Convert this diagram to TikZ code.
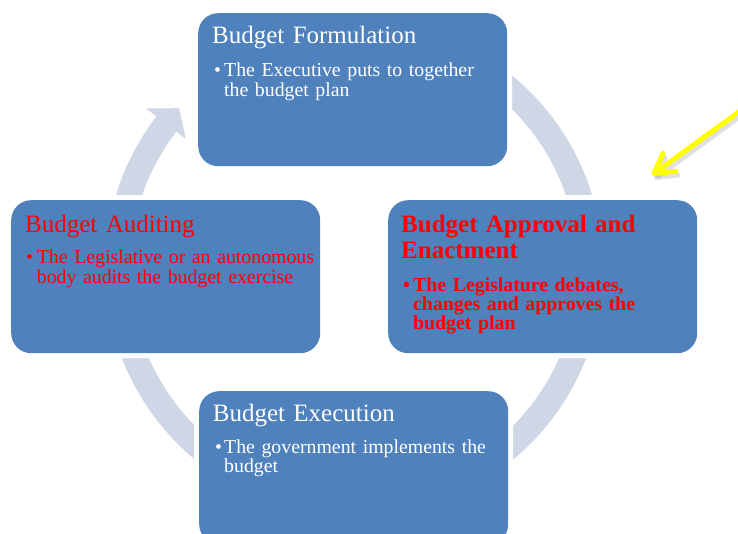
\documentclass[tikz,border=0pt]{standalone}
\usepackage{fontspec}
\setmainfont{Liberation Serif}
\usetikzlibrary{arrows.meta}
\definecolor{boxblue}{RGB}{79,129,189}
\definecolor{ringcol}{RGB}{207,214,230}
\definecolor{hiyellow}{RGB}{255,255,0}
\begin{document}
\begin{tikzpicture}[x=1pt,y=1pt,
  stagebox/.style={rectangle, rounded corners=20pt, fill=boxblue,
    minimum width=309pt, minimum height=153pt, anchor=north west, inner sep=0pt,
    preaction={draw=white, line width=10pt}},
  titletext/.style={anchor=base west, inner sep=0pt, text width=300pt, align=left,
    font=\fontsize{25}{26.4}\selectfont},
  bodytext/.style={anchor=base west, inner sep=0pt, text width=290pt, align=left,
    font=\fontsize{19.8}{#1}\selectfont},
  bullettext/.style={anchor=base west, inner sep=0pt, font=\fontsize{19.8}{18}\selectfont},
  ring/.style={draw=ringcol, line width=25pt, line cap=butt},
  yarrow/.style={draw=hiyellow, line width=5pt, line cap=round,
    -{Straight Barb[length=19pt, width=22pt, round]}}
]
\useasboundingbox (0,0) rectangle (738,533);
\clip (0,0) rectangle (738,533);
\fill[white] (0,0) rectangle (738,533);

% circular arrow
\coordinate (c) at (354,265);
\draw[ring] (c) ++(55:236.5pt) arc[start angle=55, end angle=-217.8, radius=236.5pt];
\path (c) ++(142.5:262pt) coordinate (h1)
      (c) ++(142.5:212pt) coordinate (h2)
      (c) ++(137.6:237pt) coordinate (h3);
\fill[ringcol] (h1) -- (h3) -- (h2) -- cycle;

% boxes
\node[stagebox] (form) at (198,520) {};
\node[stagebox] (appr) at (388,333) {};
\node[stagebox] (audit) at (11,333) {};
\node[stagebox] (exec) at (199,142) {};

% Budget Formulation
\node[titletext, text=white] (formT) at ([shift={(14pt,-31pt)}]form.north west) {Budget Formulation};
\node[bullettext, text=white] (formB) at ([shift={(16pt,-64pt)}]form.north west) {•};
\node[bodytext=18, text=white] (formX) at ([shift={(26pt,-64pt)}]form.north west)
  {The Executive puts to together\\the budget plan};

% Budget Approval and Enactment
\node[titletext, text=red, font=\bfseries\fontsize{25}{26.3}\selectfont] (apprT)
  at ([shift={(13pt,-32.7pt)}]appr.north west) {Budget Approval and\\Enactment};
\node[bullettext, text=red, font=\bfseries\fontsize{19.8}{18}\selectfont] (apprB)
  at ([shift={(15pt,-91.7pt)}]appr.north west) {•};
\node[bodytext=17.5, text=red, font=\bfseries\fontsize{19.8}{17.5}\selectfont] (apprX)
  at ([shift={(25pt,-91.7pt)}]appr.north west)
  {The Legislature debates,\\changes and approves the\\budget plan};

% Budget Auditing
\node[titletext, text=red] (auditT) at ([shift={(14pt,-32.7pt)}]audit.north west) {Budget Auditing};
\node[bullettext, text=red] (auditB) at ([shift={(15pt,-64pt)}]audit.north west) {•};
\node[bodytext=17.7, text=red] (auditX) at ([shift={(25.7pt,-64pt)}]audit.north west)
  {The Legislative or an autonomous\\body audits the budget exercise};

% Budget Execution
\node[titletext, text=white] (execT) at ([shift={(13.7pt,-30.7pt)}]exec.north west) {Budget Execution};
\node[bullettext, text=white] (execB) at ([shift={(16pt,-62pt)}]exec.north west) {•};
\node[bodytext=17, text=white] (execX) at ([shift={(25pt,-62pt)}]exec.north west)
  {The government implements the\\budget};

% yellow pointer arrow
\coordinate (ys) at (747,427);
\coordinate (ye) at (652,358);
\draw[yarrow, draw=black, opacity=0.12] ([shift={(2pt,-4pt)}]ys) -- ([shift={(2pt,-4pt)}]ye);
\draw[yarrow] (ys) -- (ye);
\end{tikzpicture}
\end{document}
